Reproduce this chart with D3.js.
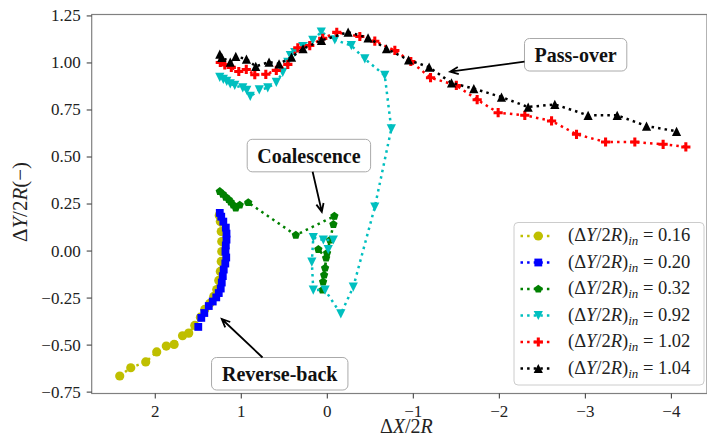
<!DOCTYPE html>
<html>
<head>
<meta charset="utf-8">
<script src="https://cdn.jsdelivr.net/npm/d3@7"></script>
<style>
    body { margin: 0; background: #fff; }
    svg { display: block; }
</style>
</head>
<body>
<svg id="chart" width="707" height="443"></svg>
<script>
// (ΔY/2R)in = 0.16
const x016 = [2.407, 2.279, 2.105, 1.977, 1.866, 1.775, 1.677, 1.605, 1.535, 1.469, 1.419, 1.36, 1.314, 1.279, 1.256, 1.238, 1.227, 1.221, 1.221, 1.227, 1.238, 1.25];
const y016 = [-0.667, -0.623, -0.592, -0.539, -0.508, -0.499, -0.453, -0.439, -0.398, -0.354, -0.313, -0.281, -0.244, -0.207, -0.159, -0.111, -0.058, -0.005, 0.048, 0.101, 0.154, 0.186];
// 0.20
const x020 = [1.244, 1.227, 1.203, 1.174, 1.166, 1.166, 1.174, 1.178, 1.169, 1.18, 1.198, 1.209, 1.221, 1.233, 1.256, 1.285, 1.326, 1.372, 1.424, 1.459, 1.494];
const y020 = [0.2, 0.18, 0.154, 0.122, 0.09, 0.058, 0.027, -0.005, -0.037, -0.069, -0.101, -0.136, -0.17, -0.202, -0.226, -0.249, -0.271, -0.295, -0.332, -0.358, -0.406];
// 0.32
const x032 = [1.244, 1.209, 1.174, 1.14, 1.116, 1.087, 1.058, 1.012, 0.913, 0.36, -0.088, -0.077, -0.038, -0.003, 0.02, 0.043, 0.051, 0.031, 0.008, 0.098];
const y032 = [0.314, 0.3, 0.284, 0.271, 0.258, 0.242, 0.226, 0.242, 0.255, 0.082, 0.183, 0.139, 0.056, -0.013, -0.093, -0.167, -0.21, -0.13, -0.04, 0.006];
// 0.92
const x092 = [1.244, 1.203, 1.163, 1.122, 1.07, 0.977, 0.93, 0.89, 0.785, 0.686, 0.587, 0.512, 0.453, 0.424, 0.372, 0.279, 0.163, 0.064, -0.093, -0.285, -0.442, -0.674, -0.75, -0.558, -0.308, -0.163, 0.02, 0.157, 0.174, 0.157, 0.04, -0.076, -0.017];
const y092 = [0.921, 0.91, 0.899, 0.886, 0.878, 0.865, 0.852, 0.82, 0.854, 0.865, 0.894, 0.947, 1.0, 1.037, 1.053, 1.085, 1.117, 1.162, 1.12, 1.09, 1.019, 0.931, 0.647, 0.231, -0.194, -0.337, -0.21, -0.21, -0.061, 0.069, 0.056, 0.056, 0.005];
// 1.02
const x102 = [1.238, 1.186, 1.11, 1.023, 0.936, 0.837, 0.709, 0.587, 0.453, 0.337, 0.198, 0.047, -0.116, -0.384, -0.558, -0.791, -0.977, -1.206, -1.506, -1.748, -1.992, -2.302, -2.613, -2.903, -3.241, -3.581, -3.91, -4.174];
const y102 = [1.0, 0.987, 0.974, 0.952, 0.963, 0.935, 0.937, 0.958, 0.99, 1.078, 1.09, 1.128, 1.16, 1.138, 1.113, 1.064, 1.005, 0.919, 0.878, 0.802, 0.733, 0.719, 0.689, 0.618, 0.577, 0.577, 0.565, 0.551];
// 1.04
const x104 = [1.244, 1.221, 1.122, 1.058, 0.934, 0.826, 0.671, 0.555, 0.41, 0.276, 0.062, -0.248, -0.48, -0.694, -0.951, -1.19, -1.45, -1.709, -2.031, -2.341, -2.651, -3.038, -3.376, -3.717, -4.066];
const y104 = [1.044, 1.027, 1.002, 1.032, 1.018, 0.979, 1.002, 0.993, 1.028, 1.073, 1.117, 1.161, 1.131, 1.073, 1.013, 0.975, 0.891, 0.861, 0.816, 0.763, 0.777, 0.719, 0.719, 0.662, 0.634];

const labels = ['0.16', '0.20', '0.32', '0.92', '1.02', '1.04'];
const colors = ['#bfbf00', '#0000ff', '#008000', '#00bfbf', '#ff0000', '#000000'];
const markers = ['circle', 'square', 'pentagon', 'triangleDown', 'plus', 'triangleUp'];

const xTicks = [2, 1, 0, -1, -2, -3, -4];
const yTicks = [-0.75, -0.5, -0.25, 0, 0.25, 0.5, 0.75, 1.0, 1.25];

// annotations: arrow tip and box centre in data units
const notes = [
    { text: 'Pass-over', tip: [-1.434, 0.951], at: [-2.893, 1.041] },
    { text: 'Coalescence', tip: [0.058, 0.206], at: [0.208, 0.505] },
    { text: 'Reverse-back', tip: [1.221, -0.364], at: [0.547, -0.655] }
];

const series = [[x016, y016], [x020, y020], [x032, y032], [x092, y092], [x102, y102], [x104, y104]]
    .map(([xs, ys], i) => ({
        label: labels[i],
        color: colors[i],
        marker: markers[i],
        points: xs.map((x, j) => [x, ys[j]])
    }));

const svg = d3.select('#chart');
const plot = { left: 91.7, right: 707, top: 14.5, bottom: 393.5 };
const serif = '"Liberation Serif", "DejaVu Serif", serif';

const x = d3.scaleLinear().domain([2.733, -4.42]).range([plot.left, plot.right]);
const y = d3.scaleLinear().domain([-0.76, 1.255]).range([plot.bottom, plot.top]);

const minus = (s) => s.replace('-', '\u2212');

// marker shapes, matplotlib style, s = half size
function markerPath(type, s) {
    const p = d3.path();
    if (type === 'circle') {
        p.arc(0, 0, s, 0, 2 * Math.PI);
    } else if (type === 'square') {
        const h = s * 0.85;
        p.rect(-h, -h, 2 * h, 2 * h);
    } else if (type === 'pentagon') {
        for (let k = 0; k < 5; k++) {
            const a = -Math.PI / 2 + k * 2 * Math.PI / 5;
            const r = s * 0.95;
            k ? p.lineTo(r * Math.cos(a), r * Math.sin(a)) : p.moveTo(r * Math.cos(a), r * Math.sin(a));
        }
        p.closePath();
    } else if (type === 'triangleUp' || type === 'triangleDown') {
        const d = type === 'triangleUp' ? 1 : -1;
        p.moveTo(0, -s * d);
        p.lineTo(-s, s * d);
        p.lineTo(s, s * d);
        p.closePath();
    } else if (type === 'plus') {
        const a = s, b = s / 3;
        p.moveTo(-b, -a); p.lineTo(b, -a); p.lineTo(b, -b); p.lineTo(a, -b);
        p.lineTo(a, b); p.lineTo(b, b); p.lineTo(b, a); p.lineTo(-b, a);
        p.lineTo(-b, b); p.lineTo(-a, b); p.lineTo(-a, -b); p.lineTo(-b, -b);
        p.closePath();
    }
    return p.toString();
}

// frame
svg.append('rect')
    .attr('x', plot.left).attr('y', plot.top)
    .attr('width', plot.right - plot.left).attr('height', plot.bottom - plot.top)
    .attr('fill', 'none').attr('stroke', '#808080').attr('stroke-width', 1.2);

// axes
const xAxis = svg.append('g')
    .attr('transform', `translate(0,${plot.bottom})`)
    .call(d3.axisBottom(x).tickValues(xTicks).tickSize(5).tickPadding(6)
        .tickFormat((d) => minus(String(d))));
const yAxis = svg.append('g')
    .attr('transform', `translate(${plot.left},0)`)
    .call(d3.axisLeft(y).tickValues(yTicks).tickSize(5).tickPadding(6)
        .tickFormat((d) => minus(d3.format('.2f')(d))));

[xAxis, yAxis].forEach((g) => {
    g.select('.domain').remove();
    g.selectAll('.tick line').attr('stroke', '#333').attr('stroke-width', 1);
    g.selectAll('.tick text').attr('fill', '#222')
        .style('font-family', serif).style('font-size', '17px');
});

// math-ish text helper: parts [text, italic?, subscript?]
function mathText(sel, parts, size) {
    let down = false;
    parts.forEach(([t, it, sub]) => {
        const span = sel.append('tspan')
            .text(t)
            .style('font-style', it ? 'italic' : 'normal')
            .style('font-size', (sub ? size * 0.7 : size) + 'px');
        if (sub && !down) { span.attr('dy', size * 0.22); down = true; }
        else if (!sub && down) { span.attr('dy', -size * 0.22); down = false; }
    });
    return sel;
}

mathText(svg.append('text')
    .attr('x', (plot.left + plot.right) / 2 + 7).attr('y', 433)
    .attr('text-anchor', 'middle').attr('fill', '#222')
    .style('font-family', serif),
    [['\u0394', 0], ['X', 1], ['/2', 0], ['R', 1]], 20);

mathText(svg.append('text')
    .attr('transform', `translate(27,${(plot.top + plot.bottom) / 2 - 2}) rotate(-90)`)
    .attr('text-anchor', 'middle').attr('fill', '#222')
    .style('font-family', serif),
    [['\u0394', 0], ['Y', 1], ['/2', 0], ['R', 1], ['(\u2212)', 0]], 21);

// series
const line = d3.line().x((d) => x(d[0])).y((d) => y(d[1]));
series.forEach((s) => {
    const g = svg.append('g');
    g.append('path')
        .attr('d', line(s.points))
        .attr('fill', 'none').attr('stroke', s.color)
        .attr('stroke-width', 2.5).attr('stroke-dasharray', '2.5,4.1');
    g.selectAll('path.m')
        .data(s.points)
        .join('path')
        .attr('class', 'm')
        .attr('transform', (d) => `translate(${x(d[0])},${y(d[1])})`)
        .attr('d', markerPath(s.marker, 4.6))
        .attr('fill', s.color);
});

// annotations
notes.forEach((n) => {
    const cx = x(n.at[0]), cy = y(n.at[1]);
    const g = svg.append('g');
    const box = g.append('rect');
    const t = g.append('text')
        .attr('x', cx).attr('y', cy + 7)
        .attr('text-anchor', 'middle')
        .style('font-family', serif).style('font-weight', 'bold').style('font-size', '20px')
        .attr('fill', '#111')
        .text(n.text);
    const bb = t.node().getBBox();
    const w = bb.width + 20, h = 32.5;
    box.attr('x', cx - w / 2).attr('y', cy - h / 2)
        .attr('width', w).attr('height', h).attr('rx', 5)
        .attr('fill', '#fff').attr('stroke', '#aaa').attr('stroke-width', 1);

    // arrow from box edge to tip
    const tx = x(n.tip[0]), ty = y(n.tip[1]);
    const dx = tx - cx, dy = ty - cy;
    const k = Math.min(Math.abs((w / 2) / dx), Math.abs((h / 2) / dy));
    const sx = cx + dx * k, sy = cy + dy * k;
    const ang = Math.atan2(ty - sy, tx - sx);
    const hl = 9, ha = 0.42;
    svg.append('path')
        .attr('d', `M${sx},${sy}L${tx},${ty}` +
            `M${tx - hl * Math.cos(ang - ha)},${ty - hl * Math.sin(ang - ha)}L${tx},${ty}` +
            `L${tx - hl * Math.cos(ang + ha)},${ty - hl * Math.sin(ang + ha)}`)
        .attr('fill', 'none').attr('stroke', '#000').attr('stroke-width', 1.8);
});

// legend
const legend = svg.append('g').attr('transform', 'translate(514,222.5)');
legend.append('rect')
    .attr('width', 190).attr('height', 162.5).attr('rx', 4)
    .attr('fill', 'rgba(255,255,255,0.85)').attr('stroke', '#cccccc');
series.forEach((s, i) => {
    const ly = 13.5 + i * 26.5;
    legend.append('line')
        .attr('x1', 6.5).attr('x2', 39.5).attr('y1', ly).attr('y2', ly)
        .attr('stroke', s.color).attr('stroke-width', 2.5).attr('stroke-dasharray', '2.5,4.1');
    legend.append('path')
        .attr('transform', `translate(24.3,${ly})`)
        .attr('d', markerPath(s.marker, 4.6))
        .attr('fill', s.color);
    mathText(legend.append('text')
        .attr('x', 54).attr('y', ly + 5).attr('fill', '#222')
        .style('font-family', serif),
        [['(\u0394', 0], ['Y', 1], ['/2', 0], ['R', 1], [')', 0], ['in', 1, 1], [' = ' + s.label, 0]], 18.5);
});
</script>
</body>
</html>
